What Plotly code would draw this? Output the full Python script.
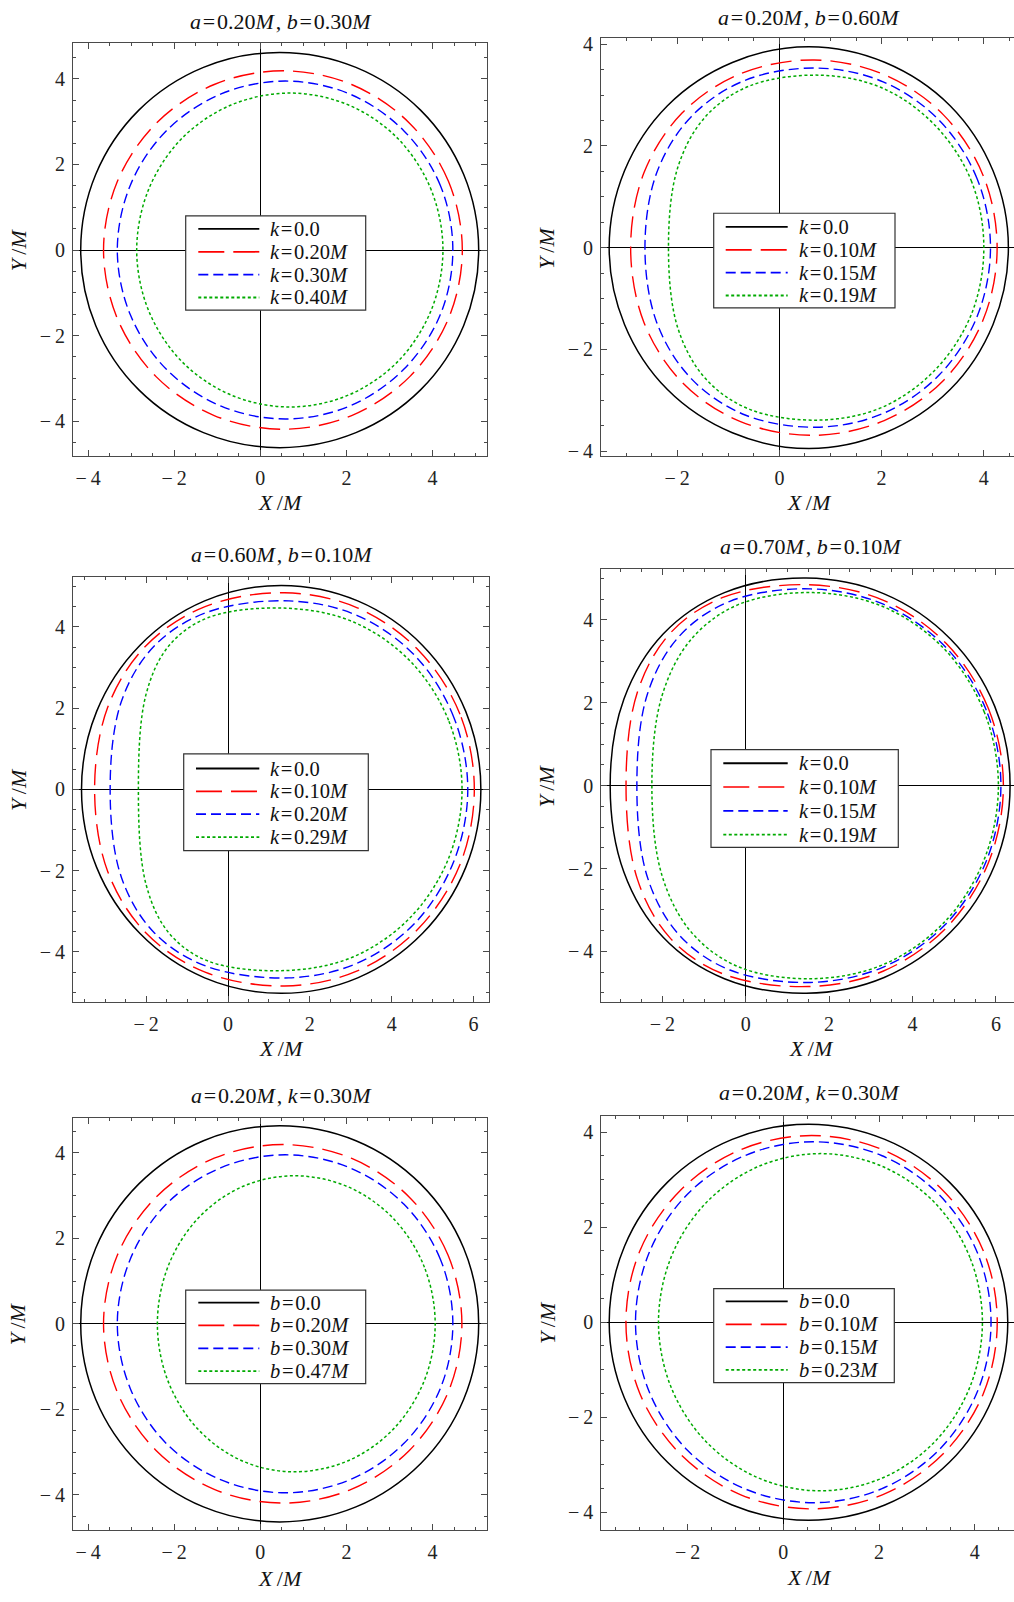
import plotly.graph_objects as go

W, H = 1014, 1602

# ------------------------------------------------------------------ data
panel_titles = [("a", "0.20", "b", "0.30"), ("a", "0.20", "b", "0.60"),
                ("a", "0.60", "b", "0.10"), ("a", "0.70", "b", "0.10"),
                ("a", "0.20", "k", "0.30"), ("a", "0.20", "k", "0.30")]
legend_param = ["k", "k", "k", "k", "b", "b"]
legend_values = [["0.0", "0.20", "0.30", "0.40"],
                 ["0.0", "0.10", "0.15", "0.19"],
                 ["0.0", "0.10", "0.20", "0.29"],
                 ["0.0", "0.10", "0.15", "0.19"],
                 ["0.0", "0.20", "0.30", "0.47"],
                 ["0.0", "0.10", "0.15", "0.23"]]

tick_vals = [-4, -2, 0, 2, 4, 6]
tick_text = ["\u2212\u20094", "\u2212\u20092", "0", "2", "4", "6"]

# upper half of every shadow contour (from right edge to left edge)
tl_x = [[5.07, 4.72, 3.72, 2.22, 0.45, -1.32, -2.82, -3.82, -4.17],
        [4.69, 4.37, 3.47, 2.12, 0.53, -1.07, -2.42, -3.32, -3.64],
        [4.47, 4.18, 3.33, 2.07, 0.58, -0.91, -2.18, -3.02, -3.32],
        [4.24, 3.97, 3.20, 2.05, 0.69, -0.68, -1.83, -2.60, -2.87]]
tl_y = [[0, 1.77, 3.27, 4.27, 4.62, 4.27, 3.27, 1.77, 0],
        [0, 1.60, 2.96, 3.87, 4.19, 3.87, 2.96, 1.60, 0],
        [0, 1.51, 2.79, 3.65, 3.95, 3.65, 2.79, 1.51, 0],
        [0, 1.40, 2.60, 3.39, 3.67, 3.39, 2.60, 1.40, 0]]

tr_x = [[4.48, 4.18, 3.34, 2.07, 0.58, -0.92, -2.19, -3.03, -3.33],
        [4.26, 3.99, 3.21, 2.05, 0.68, -0.76, -1.90, -2.65, -2.91],
        [4.13, 3.87, 3.13, 2.03, 0.73, -0.67, -1.72, -2.40, -2.63],
        [4.00, 3.76, 3.06, 2.03, 0.80, -0.58, -1.45, -1.99, -2.17]]
tr_y = [[0, 1.51, 2.79, 3.64, 3.95, 3.64, 2.79, 1.51, 0],
        [0, 1.41, 2.61, 3.40, 3.69, 3.42, 2.65, 1.47, 0],
        [0, 1.35, 2.50, 3.26, 3.53, 3.29, 2.58, 1.47, 0],
        [0, 1.30, 2.39, 3.13, 3.39, 3.18, 2.57, 1.57, 0]]

ml_x = [[6.18, 5.81, 4.75, 3.17, 1.30, -0.57, -2.15, -3.21, -3.58],
        [6.02, 5.67, 4.66, 3.16, 1.38, -0.56, -2.01, -2.94, -3.26],
        [5.86, 5.52, 4.58, 3.16, 1.49, -0.54, -1.82, -2.61, -2.88],
        [5.72, 5.39, 4.46, 3.07, 1.43, -0.48, -1.44, -2.00, -2.19]]
ml_y = [[0, 1.92, 3.55, 4.64, 5.02, 4.64, 3.55, 1.92, 0],
        [0, 1.85, 3.42, 4.47, 4.84, 4.50, 3.53, 2.02, 0],
        [0, 1.77, 3.28, 4.28, 4.64, 4.35, 3.51, 2.15, 0],
        [0, 1.70, 3.15, 4.12, 4.46, 4.23, 3.54, 2.35, 0]]

mr_x = [[6.34, 5.97, 4.91, 3.32, 1.45, -0.51, -1.98, -2.92, -3.25],
        [6.18, 5.82, 4.81, 3.29, 1.50, -0.53, -1.81, -2.60, -2.87],
        [6.12, 5.77, 4.78, 3.30, 1.55, -0.38, -1.60, -2.36, -2.61],
        [6.06, 5.72, 4.76, 3.32, 1.62, -0.18, -1.31, -2.01, -2.25]]
mr_y = [[0, 1.92, 3.54, 4.63, 5.01, 4.66, 3.66, 2.09, 0],
        [0, 1.86, 3.43, 4.48, 4.85, 4.55, 3.68, 2.25, 0],
        [0, 1.82, 3.36, 4.38, 4.75, 4.45, 3.60, 2.20, 0],
        [0, 1.78, 3.30, 4.31, 4.66, 4.37, 3.53, 2.16, 0]]

bl_x = [[5.07, 4.72, 3.72, 2.22, 0.45, -1.32, -2.82, -3.82, -4.17],
        [4.68, 4.36, 3.46, 2.11, 0.52, -1.07, -2.42, -3.32, -3.64],
        [4.47, 4.18, 3.33, 2.07, 0.58, -0.91, -2.18, -3.02, -3.32],
        [4.06, 3.81, 3.10, 2.04, 0.78, -0.43, -1.46, -2.15, -2.39]]
bl_y = [[0, 1.77, 3.27, 4.28, 4.63, 4.28, 3.27, 1.77, 0],
        [0, 1.60, 2.96, 3.87, 4.19, 3.87, 2.96, 1.60, 0],
        [0, 1.51, 2.80, 3.65, 3.95, 3.65, 2.80, 1.51, 0],
        [0, 1.32, 2.45, 3.20, 3.46, 3.20, 2.45, 1.32, 0]]

br_x = [[4.69, 4.37, 3.47, 2.12, 0.53, -1.07, -2.42, -3.32, -3.64],
        [4.47, 4.18, 3.33, 2.08, 0.59, -0.90, -2.15, -3.00, -3.29],
        [4.34, 4.06, 3.25, 2.05, 0.62, -0.80, -2.01, -2.81, -3.09],
        [4.16, 3.90, 3.17, 2.07, 0.78, -0.52, -1.62, -2.35, -2.61]]
br_y = [[0, 1.60, 2.95, 3.85, 4.17, 3.85, 2.95, 1.60, 0],
        [0, 1.50, 2.78, 3.63, 3.93, 3.63, 2.78, 1.50, 0],
        [0, 1.45, 2.69, 3.51, 3.80, 3.51, 2.69, 1.45, 0],
        [0, 1.36, 2.51, 3.28, 3.55, 3.28, 2.51, 1.36, 0]]

curves_x = [tl_x, tr_x, ml_x, mr_x, bl_x, br_x]
curves_y = [tl_y, tr_y, ml_y, mr_y, bl_y, br_y]

# ------------------------------------------------------------------ styles / layout
FONT = "Liberation Serif"
FRAME = "#4a4a4a"
TXT = "#111"
SP = "\u200a"      # hair space (Mathematica-like spacing around '=')
styles = [dict(color="black", width=1.5, dash="solid"),
          dict(color="#ff0000", width=1.4, dash="21px,9px"),
          dict(color="#0000ff", width=1.4, dash="10px,5px"),
          dict(color="#00aa00", width=1.5, dash="3px,2.5px")]
legend_dash = ["solid", "26px,9px", "10px,5px", "3px,2.5px"]

# pixel geometry of each panel
panels = [
    dict(px=(73, 487.3), py=(38.3, 454.3), xr=(-4.349, 5.27), yr=(-4.82, 4.839), right=False),
    dict(px=(601, 1014), py=(33.3, 454.3), xr=(-3.49, 4.59), yr=(-4.10, 4.12), right=True),
    dict(px=(73, 489.3), py=(575.7, 1004.3), xr=(-3.788, 6.386), yr=(-5.245, 5.235), right=False),
    dict(px=(601.3, 1014), py=(567.9, 1004), xr=(-3.463, 6.434), yr=(-5.225, 5.23), right=True),
    dict(px=(73, 487.3), py=(1120.7, 1536), xr=(-4.349, 5.27), yr=(-4.83, 4.81), right=False),
    dict(px=(601.3, 1014), py=(1118.3, 1535.3), xr=(-3.805, 4.82), yr=(-4.37, 4.35), right=True),
]
title_pos = [(281, 16.7), (809, 12.7), (282, 553.7), (811, 545.3), (281, 1098.5), (809, 1095)]
xlab_pos = [(280, 501), (809, 501), (281, 1051), (811, 1051), (280, 1584), (809, 1583)]
ylab_pos = [(18.3, 246.7), (546.7, 244.3), (18.3, 790), (546.7, 786.1), (18.3, 1328), (546.7, 1326.3)]
leg_box = [(185.7, 212.3, 365.7, 307.3), (713.7, 209.7, 895, 305),
           (183.7, 754, 368.3, 851.5), (711, 749.7, 898.3, 848.2),
           (185.7, 1294, 365.7, 1388.2), (713.7, 1292.6, 894.3, 1387.2)]
leg_line = [(198.3, 259.3), (725.7, 787.7), (196, 259.3), (723.3, 787.7), (198.3, 259.3), (725.7, 787.7)]
leg_text_x = [268.3, 796.7, 268.3, 796.7, 268.3, 796.7]
leg_rows = [[225.5, 248.5, 271.5, 294.5], [223.5, 246.5, 269.5, 292.5],
            [768.8, 791.8, 814.8, 837.8], [763.5, 787.4, 811.4, 835.3],
            [1306.6, 1329.6, 1352.6, 1375.6], [1305.4, 1328.4, 1351.4, 1374.4]]


def fx(p):
    return p / W


def fy(p):
    return 1 - p / H


fig = go.Figure()
annotations = []
shapes = []
layout = dict(width=W, height=H, margin=dict(l=0, r=0, t=0, b=0),
              paper_bgcolor="white", plot_bgcolor="white", showlegend=False)

for i, p in enumerate(panels):
    n = "" if i == 0 else str(i + 1)
    xa, ya = "xaxis" + n, "yaxis" + n
    xid, yid = "x" + n, "y" + n
    common = dict(showgrid=False, zeroline=True, zerolinecolor="black", zerolinewidth=1,
                  showline=True, linecolor=FRAME, linewidth=1,
                  ticks="inside", ticklen=6, tickwidth=1, tickcolor=FRAME,
                  tickmode="array", tickvals=tick_vals, ticktext=tick_text,
                  tickfont=dict(family=FONT, size=20, color="#222"),
                  minor=dict(ticks="inside", ticklen=3, tickwidth=1, tickcolor=FRAME,
                             dtick=0.5, tick0=0, showgrid=False),
                  fixedrange=True)
    layout[xa] = dict(common, domain=[fx(p["px"][0]), fx(p["px"][1])], range=list(p["xr"]),
                      anchor=yid, mirror="ticks", ticklabelstandoff=4)
    layout[ya] = dict(common, domain=[fy(p["py"][1]), fy(p["py"][0])], range=list(p["yr"]),
                      anchor=xid, mirror=(False if p["right"] else "ticks"), ticklabelstandoff=3)

    # contours (upper half as read, lower half is its mirror image)
    for j in range(4):
        xs, ys = curves_x[i][j], curves_y[i][j]
        full_x = xs + xs[-2::-1]
        full_y = ys + [-v for v in ys[-2::-1]]
        fig.add_trace(go.Scatter(x=full_x, y=full_y, mode="lines", xaxis=xid, yaxis=yid,
                                 line=dict(shape="spline", smoothing=1.0, **styles[j]),
                                 hoverinfo="skip", showlegend=False))

    # title and axis labels
    s1, v1, s2, v2 = panel_titles[i]
    ttl = f"<i>{s1}</i>{SP}={SP}{v1}<i>M</i>{SP}, <i>{s2}</i>{SP}={SP}{v2}<i>M</i>"
    annotations.append(dict(text=ttl, x=fx(title_pos[i][0]), y=fy(title_pos[i][1]),
                            xref="paper", yref="paper", xanchor="center", yanchor="middle",
                            showarrow=False, font=dict(family=FONT, size=22, color=TXT)))
    annotations.append(dict(text=f"<i>X</i>\u2009/<i>M</i>", x=fx(xlab_pos[i][0]), y=fy(xlab_pos[i][1]),
                            xref="paper", yref="paper", xanchor="center", yanchor="middle",
                            showarrow=False, font=dict(family=FONT, size=22, color=TXT)))
    annotations.append(dict(text=f"<i>Y</i>\u2009/<i>M</i>", x=fx(ylab_pos[i][0]), y=fy(ylab_pos[i][1]),
                            xref="paper", yref="paper", xanchor="center", yanchor="middle",
                            textangle=-90, showarrow=False,
                            font=dict(family=FONT, size=22, color=TXT)))

    # legend box
    bx0, by0, bx1, by1 = leg_box[i]
    shapes.append(dict(type="rect", xref="paper", yref="paper",
                       x0=fx(bx0), x1=fx(bx1), y0=fy(by1), y1=fy(by0),
                       fillcolor="white", line=dict(color="#333", width=1.2), layer="above"))
    for j in range(4):
        ry = leg_rows[i][j]
        shapes.append(dict(type="line", xref="paper", yref="paper",
                           x0=fx(leg_line[i][0]), x1=fx(leg_line[i][1]), y0=fy(ry), y1=fy(ry),
                           line=dict(color=styles[j]["color"], width=styles[j]["width"] + 0.3,
                                     dash=legend_dash[j]), layer="above"))
        val = legend_values[i][j]
        unit = "" if j == 0 else "<i>M</i>"
        txt = f"<i>{legend_param[i]}</i>{SP}={SP}{val}{unit}"
        annotations.append(dict(text=txt, x=fx(leg_text_x[i]), y=fy(ry), xref="paper", yref="paper",
                                xanchor="left", yanchor="middle", showarrow=False,
                                font=dict(family=FONT, size=20.5, color=TXT)))

layout["annotations"] = annotations
layout["shapes"] = shapes
fig.update_layout(**layout)
fig.write_html("out.html", config={"displayModeBar": False},
               post_script="document.body.style.margin='0px';document.body.style.overflow='hidden';")
